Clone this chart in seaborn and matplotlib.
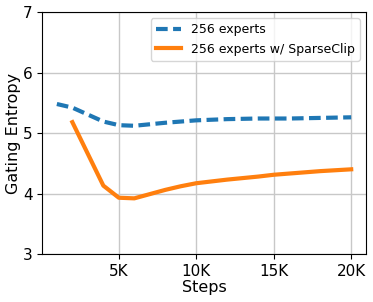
import numpy as np
import pandas as pd
import seaborn as sns
import matplotlib.pyplot as plt

# Datos (pasos en miles)
steps = [1, 2, 4, 5, 6, 8, 9, 10, 12, 14, 15, 16, 18, 20]
entropy_base = [5.48, 5.42, 5.19, 5.13, 5.12, 5.17, 5.19, 5.21, 5.23, 5.24, 5.24, 5.24, 5.25, 5.26]
entropy_clip = [np.nan, 5.18, 4.13, 3.93, 3.92, 4.06, 4.12, 4.17, 4.23, 4.28, 4.31, 4.33, 4.37, 4.40]
xtick_vals = [5, 10, 15, 20]
xtick_labels = ["5K", "10K", "15K", "20K"]

df = pd.DataFrame({"steps": steps, "base": entropy_base, "clip": entropy_clip})

fig, ax = plt.subplots(figsize=(3.73, 3.02), dpi=100)
fig.subplots_adjust(left=0.113, right=0.981, bottom=0.159, top=0.960)

sns.lineplot(data=df, x="steps", y="base", ax=ax, color="#1f77b4", linewidth=3,
             linestyle=(0, (2.8, 1.3)), label="256 experts")
sns.lineplot(data=df, x="steps", y="clip", ax=ax, color="#ff7f0e", linewidth=3,
             label="256 experts w/ SparseClip")

ax.set_ylim(3, 7)
ax.set_yticks([3, 4, 5, 6, 7])
ax.set_xticks(xtick_vals)
ax.set_xticklabels(xtick_labels)
ax.tick_params(labelsize=11)
ax.set_xlabel("Steps", fontsize=11.5, labelpad=1)
ax.set_ylabel("Gating Entropy", fontsize=11.5, labelpad=1)
ax.grid(True, color="#c8c8c8", linewidth=1)
ax.set_axisbelow(True)
ax.legend(loc="upper right", fontsize=9)

plt.savefig("out.png", dpi=100)
